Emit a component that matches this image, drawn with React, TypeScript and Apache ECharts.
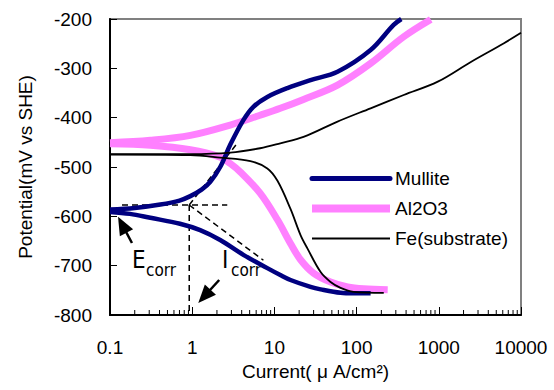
import React, { useEffect, useRef } from "react";
import * as echarts from "echarts";

type Pt = [number, number];

// Current (µA/cm²), Potential (mV vs SHE)
const mulliteAnodic: Pt[] = [
  [0.1, -586], [0.2, -583], [0.41, -576], [0.7, -568], [0.95, -559], [1.3, -546],
  [1.66, -530], [2.19, -500], [2.9, -455], [4.19, -405], [5.55, -378], [8.2, -358],
  [14.4, -340], [27.5, -324], [58.6, -307], [148, -263], [282, -212], [350, -200],
];
const mulliteCathodic: Pt[] = [
  [0.1, -591], [0.175, -595], [0.31, -603], [0.71, -615], [1.25, -628], [2.19, -648],
  [4.19, -678], [8.2, -705], [11.8, -719], [15.7, -729], [27.5, -743], [36.5, -748],
  [63.8, -755], [91.9, -756], [148, -756],
];
const al2o3Anodic: Pt[] = [
  [0.1, -451], [0.31, -446], [0.95, -436], [2.9, -415], [6.7, -395], [11.8, -381],
  [22.6, -363], [58.6, -334], [148, -290], [374, -236], [798, -201],
];
const al2o3Cathodic: Pt[] = [
  [0.1, -453], [0.31, -456], [0.95, -465], [2.19, -480], [2.9, -493], [3.85, -510],
  [6.7, -553], [10.9, -607], [15.7, -655], [20.8, -688], [29.9, -715], [48.2, -733],
  [77.6, -743], [122, -747], [239, -749],
];
const feAnodic: Pt[] = [
  [0.1, -474], [0.95, -474], [2.9, -471], [6.7, -462], [11.8, -452], [22.6, -439],
  [58.6, -408], [148, -381], [374, -354], [972, -327], [2455, -287], [6210, -249],
  [10000, -228],
];
const feCathodic: Pt[] = [
  [0.1, -475], [0.95, -476], [2.19, -481], [5.1, -488], [8.2, -503], [10.9, -528],
  [15.7, -585], [20.8, -638], [25.2, -665], [36.5, -713], [48.2, -733], [63.8, -745],
  [91.9, -753], [214, -755],
];

// Tafel construction (dashed)
const ecorrLine: Pt[] = [[0.14, -577], [2.67, -577]];
const icorrLine: Pt[] = [[0.92, -577], [0.92, -800]];
const cathodicTafel: Pt[] = [[0.92, -577], [7.35, -689]];
const anodicTafel: Pt[] = [[0.92, -577], [3.64, -449]];

// arrows [tail, head]
const ecorrArrow: Pt[] = [[0.185, -654], [0.141, -617]];
const icorrArrow: Pt[] = [[2.13, -729], [1.405, -762]];

const xMin = 0.1;
const xMax = 10000;
const yMin = -800;
const yMax = -200;
const yStep = 100;
const decades = [0.1, 1, 10, 100, 1000];
const minorMultipliers = [2, 3, 4, 5, 6, 7, 8, 9];

const FONT = "'Liberation Sans', Arial, sans-serif";
const NARROW = "'DejaVu Sans Condensed', 'Liberation Sans', Arial, sans-serif";

export default function App() {
  const ref = useRef<HTMLDivElement>(null);

  useEffect(() => {
    if (!ref.current) return;
    const chart = echarts.init(ref.current, undefined, { renderer: "svg" });

    const minorTicks: Pt[] = [];
    decades.forEach((d) => minorMultipliers.forEach((m) => minorTicks.push([+(d * m).toPrecision(6), yMin])));

    const dashed = (data: Pt[], extra: any = {}) => ({
      type: "line",
      data,
      symbol: "none",
      silent: true,
      z: 1,
      lineStyle: { color: "#000", width: 1.5, type: [6, 4] },
      ...extra,
    });

    const arrow = (a: Pt[]) => [{ coord: a[0] }, { coord: a[1] }];

    const option: any = {
      animation: false,
      textStyle: { fontFamily: FONT },
      grid: {
        left: 110,
        top: 19,
        right: 33,
        bottom: 75,
        show: true,
        borderColor: "#808080",
        borderWidth: 2,
        backgroundColor: "#fff",
      },
      legend: {
        orient: "vertical",
        left: 303,
        top: 164,
        itemWidth: 78,
        itemHeight: 20,
        itemGap: 11,
        textStyle: { fontSize: 19, color: "#000", fontFamily: FONT },
        data: [
          { name: "Mullite", lineStyle: { width: 5, cap: "round" }, itemStyle: { opacity: 0 } },
          { name: "Al2O3", lineStyle: { width: 8 }, itemStyle: { opacity: 0 } },
          { name: "Fe(substrate)", lineStyle: { width: 2 }, itemStyle: { opacity: 0 } },
        ],
      },
      xAxis: {
        type: "log",
        logBase: 10,
        min: xMin,
        max: xMax,
        name: "Current( μ A/cm²)",
        nameLocation: "middle",
        nameGap: 44,
        nameTextStyle: { fontSize: 19, color: "#000", fontFamily: FONT },
        axisLine: { onZero: false, lineStyle: { color: "#000", width: 2 } },
        axisTick: { inside: true, length: 8, lineStyle: { color: "#000", width: 1 } },
        axisLabel: {
          margin: 23,
          fontSize: 19,
          color: "#000",
          fontFamily: FONT,
          formatter: (v: number) => String(+Number(v).toPrecision(6)),
        },
        splitLine: { show: false },
      },
      yAxis: {
        type: "value",
        min: yMin,
        max: yMax,
        interval: yStep,
        name: "Potential(mV vs SHE)",
        nameLocation: "middle",
        nameGap: 75,
        nameTextStyle: { fontSize: 19, color: "#000", fontFamily: FONT },
        axisLine: { show: true, onZero: false, lineStyle: { color: "#000", width: 2 } },
        axisTick: { show: true, inside: true, length: 7, lineStyle: { color: "#000", width: 1 } },
        axisLabel: { margin: 18, fontSize: 19, color: "#000", fontFamily: FONT },
        splitLine: { show: false },
      },
      series: [
        {
          type: "custom",
          silent: true,
          z: 5,
          clip: false,
          data: minorTicks,
          encode: { x: 0, y: 1 },
          renderItem: (_p: any, api: any) => {
            const pt = api.coord([api.value(0), api.value(1)]);
            return {
              type: "line",
              shape: { x1: pt[0], y1: pt[1], x2: pt[0], y2: pt[1] - 5 },
              style: { stroke: "#000", lineWidth: 1 },
            };
          },
        },
        dashed(ecorrLine),
        dashed(icorrLine, {
          markLine: {
            silent: true,
            symbol: ["none", "triangle"],
            symbolSize: [15, 18],
            label: { show: false },
            lineStyle: { color: "#000", width: 2.5, type: "solid" },
            data: [arrow(ecorrArrow), arrow(icorrArrow)],
          },
        }),
        dashed(cathodicTafel),
        dashed(anodicTafel),
        ...[
          { name: "Al2O3", data: [al2o3Anodic, al2o3Cathodic], color: "#FF80FF", width: 7, z: 2 },
          { name: "Mullite", data: [mulliteAnodic, mulliteCathodic], color: "#000080", width: 4.5, z: 3 },
          { name: "Fe(substrate)", data: [feAnodic, feCathodic], color: "#000000", width: 1.8, z: 4 },
        ].flatMap((s) =>
          s.data.map((d) => ({
            type: "line",
            name: s.name,
            data: d,
            symbol: "none",
            smooth: 0.35,
            z: s.z,
            color: s.color,
            lineStyle: { color: s.color, width: s.width },
          }))
        ),
      ],
      graphic: [
        { type: "text", left: 132, top: 248, style: { text: "E", fontSize: 24, fontFamily: NARROW, fill: "#000" } },
        { type: "text", left: 146, top: 261, style: { text: "corr", fontSize: 17, fontFamily: NARROW, fill: "#000" } },
        { type: "text", left: 222, top: 248, style: { text: "I", fontSize: 24, fontFamily: NARROW, fill: "#000" } },
        { type: "text", left: 231, top: 261, style: { text: "corr", fontSize: 17, fontFamily: NARROW, fill: "#000" } },
      ],
    };

    chart.setOption(option);
    return () => chart.dispose();
  }, []);

  return (
    <div
      ref={ref}
      style={{ position: "fixed", left: 0, top: 0, width: 554, height: 390, background: "#fff" }}
    />
  );
}
